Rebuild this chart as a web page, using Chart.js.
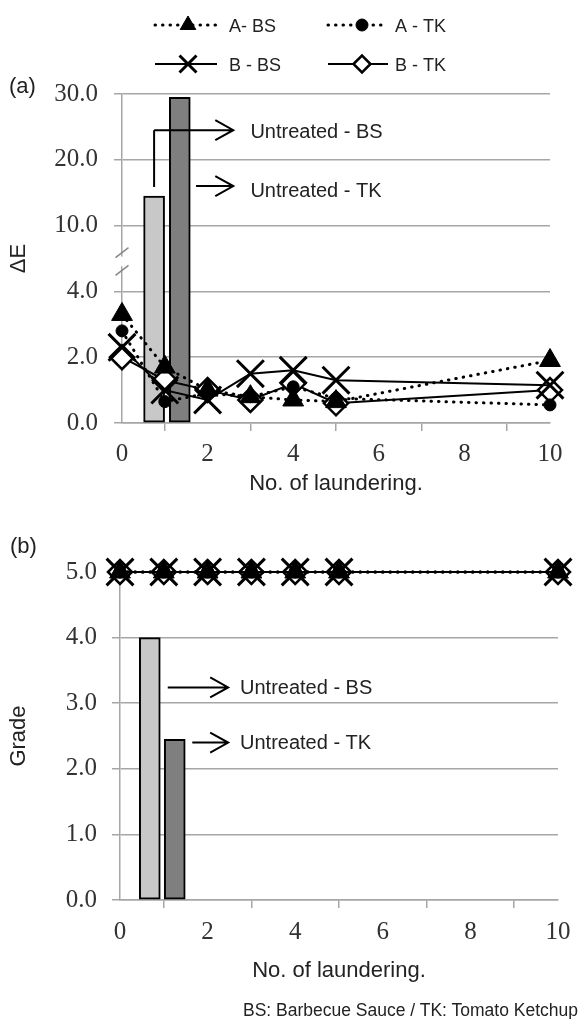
<!DOCTYPE html>
<html>
<head>
<meta charset="utf-8">
<script src="https://cdn.jsdelivr.net/npm/chart.js@4.4.1/dist/chart.umd.min.js"></script>
<style>
  body { margin: 0; background: #fff; width: 580px; height: 1019px; position: relative; overflow: hidden;
         font-family: 'Liberation Sans', Arial, sans-serif; color: #222; }
  .wrap { position: absolute; left: 0; width: 580px; }
  #wa { top: 0; height: 500px; }
  #wb { top: 500px; height: 519px; }
  .tag { position: absolute; font-size: 22px; line-height: 22px; }
  #note { position: absolute; right: 2px; top: 1000px; font-size: 17.5px; line-height: 20px; white-space: nowrap; }
</style>
</head>
<body>
<div class="wrap" id="wa"><canvas id="chartA"></canvas></div>
<div class="wrap" id="wb"><canvas id="chartB"></canvas></div>
<div class="tag" style="left:9px;top:75px">(a)</div>
<div class="tag" style="left:10px;top:535px">(b)</div>
<div id="note">BS: Barbecue Sauce / TK: Tomato Ketchup</div>

<script>
// ---- data ----
const washes = [0, 1, 2, 3, 4, 5, 10];
const seriesNames = ['A- BS', 'A - TK', 'B - BS', 'B - TK'];

// (a) colour difference
const dE_A_BS = [3.3, 1.7, 1.0, 0.8, 0.7, 0.65, 1.9];
const dE_A_TK = [2.8, 0.65, 0.9, 0.8, 1.1, 0.75, 0.55];
const dE_B_BS = [2.3, 1.0, 0.7, 1.5, 1.6, 1.3, 1.15];
const dE_B_TK = [2.0, 1.3, 1.0, 0.7, 1.2, 0.6, 1.0];
const dE_untreated = [14.5, 29.5];          // BS, TK
const dE_untreatedX = [0.75, 1.35];
const dETickLabels = ['0.0', '2.0', '4.0', '10.0', '20.0', '30.0'];

// (b) grade
const grade_A_BS = [5, 5, 5, 5, 5, 5, 5];
const grade_A_TK = [5, 5, 5, 5, 5, 5, 5];
const grade_B_BS = [5, 5, 5, 5, 5, 5, 5];
const grade_B_TK = [5, 5, 5, 5, 5, 5, 5];
const grade_untreated = [4.0, 2.45];
const grade_untreatedX = [0.68, 1.25];

const untreatedNames = ['Untreated - BS', 'Untreated - TK'];

// broken y axis in (a): 0-4 in the lower part, 10-30 above the break
function brokenY(v) { return v <= 4 ? v / 2 : 3 + (v - 10) / 10; }

const GRID = '#a6a6a6';
const SERIF = "'Liberation Serif', 'Times New Roman', serif";
const SANS = "'Liberation Sans', Arial, sans-serif";

const styles = [
  { pointStyle: 'triangle', radius: 12, legendR: 9,   fill: '#000', bw: 1, dash: [0.5, 7], lw: 3, cap: 'round', order: 1 },
  { pointStyle: 'circle',   radius: 6,  legendR: 6,   fill: '#000', bw: 1, dash: [0.5, 7], lw: 3, cap: 'round', order: 2 },
  { pointStyle: 'crossRot', radius: 19, legendR: 12,  fill: '#000', bw: 3, dash: [], lw: 2, cap: 'butt', order: 3 },
  { pointStyle: 'rectRot',  radius: 12, legendR: 8.5, fill: '#fff', bw: 2.5, dash: [], lw: 2, cap: 'butt', order: 4 }
];

function lineSet(i, ys, mapY) {
  const st = styles[i];
  return {
    type: 'line', label: seriesNames[i],
    data: washes.map((x, k) => ({ x, y: mapY(ys[k]) })),
    borderColor: '#000', borderWidth: st.lw, borderDash: st.dash, borderCapStyle: st.cap,
    pointStyle: st.pointStyle, pointRadius: st.radius, pointHoverRadius: st.radius,
    pointBackgroundColor: st.fill, pointBorderColor: '#000', pointBorderWidth: st.bw,
    tension: 0, fill: false, clip: false, order: st.order
  };
}

function barSet(x, y, color) {
  return {
    type: 'bar', data: [{ x, y }], backgroundColor: color, borderColor: '#000', borderWidth: 2,
    borderSkipped: false, barThickness: 21, grouped: false, order: 10
  };
}

function marker(ctx, style, r, x, y, fill, bw) {
  ctx.save();
  ctx.fillStyle = fill; ctx.strokeStyle = '#000'; ctx.lineWidth = bw; ctx.setLineDash([]);
  ctx.beginPath();
  if (style === 'triangle') {
    for (let k = 0; k < 3; k++) {
      const a = k * 2 * Math.PI / 3;
      ctx[k ? 'lineTo' : 'moveTo'](x + Math.sin(a) * r, y - Math.cos(a) * r);
    }
    ctx.closePath(); ctx.fill(); ctx.stroke();
  } else if (style === 'circle') {
    ctx.arc(x, y, r, 0, 2 * Math.PI); ctx.fill(); ctx.stroke();
  } else if (style === 'crossRot') {
    const d = r * Math.SQRT1_2;
    ctx.moveTo(x - d, y - d); ctx.lineTo(x + d, y + d);
    ctx.moveTo(x - d, y + d); ctx.lineTo(x + d, y - d); ctx.stroke();
  } else {
    ctx.moveTo(x - r, y); ctx.lineTo(x, y - r); ctx.lineTo(x + r, y); ctx.lineTo(x, y + r);
    ctx.closePath(); ctx.fill(); ctx.stroke();
  }
  ctx.restore();
}

function arrow(ctx, x1, y, x2) {
  ctx.beginPath(); ctx.moveTo(x1, y); ctx.lineTo(x2, y);
  ctx.moveTo(x2 - 18, y - 10); ctx.lineTo(x2, y); ctx.lineTo(x2 - 18, y + 10);
  ctx.stroke();
}

function label(ctx, text, x, y, size) {
  ctx.fillStyle = '#222'; ctx.font = (size || 20) + 'px ' + SANS;
  ctx.textAlign = 'left'; ctx.textBaseline = 'middle';
  ctx.fillText(text, x, y);
}

// legend drawn at the top of panel (a)
const legendPlugin = {
  id: 'legendTop',
  afterDraw(chart) {
    const ctx = chart.ctx;
    const cols = [[155, 217, 188, 229], [328, 388, 362, 395]];
    const rows = [25, 64];
    styles.forEach((st, i) => {
      const [x1, x2, xm, xt] = cols[i % 2];
      const y = rows[Math.floor(i / 2)];
      ctx.save();
      ctx.strokeStyle = '#000'; ctx.lineWidth = st.lw; ctx.setLineDash(st.dash); ctx.lineCap = st.cap;
      ctx.beginPath(); ctx.moveTo(x1, y); ctx.lineTo(x2, y); ctx.stroke();
      ctx.restore();
      marker(ctx, st.pointStyle, st.legendR, xm, y, st.fill, st.bw);
      label(ctx, seriesNames[i], xt, y + 2, 18);
    });
  }
};

const breakPlugin = {
  id: 'axisBreak',
  beforeDatasetsDraw(chart) {
    const { ctx, scales: { x, y } } = chart;
    const xa = x.left;
    const yLo = y.getPixelForValue(2.32), yHi = y.getPixelForValue(2.59);
    ctx.save();
    ctx.fillStyle = '#fff';
    ctx.fillRect(xa - 3, yHi + 4, 6, yLo - yHi - 8);
    ctx.strokeStyle = '#888'; ctx.lineWidth = 1.5;
    [yHi, yLo].forEach(yy => {
      ctx.beginPath(); ctx.moveTo(xa - 6.5, yy + 5); ctx.lineTo(xa + 6.5, yy - 5); ctx.stroke();
    });
    ctx.restore();
  }
};

const annotA = {
  id: 'annotA',
  afterDatasetsDraw(chart) {
    const { ctx, scales: { x, y } } = chart;
    ctx.save();
    ctx.strokeStyle = '#000'; ctx.lineWidth = 2;
    const bx = x.getPixelForValue(dE_untreatedX[0]);
    const yTop = y.getPixelForValue(brokenY(dE_untreated[0])) - 9;
    const yBr = y.getPixelForValue(brokenY(24.5));
    const xTip = x.getPixelForValue(2.6);
    ctx.beginPath(); ctx.moveTo(bx, yTop); ctx.lineTo(bx, yBr); ctx.stroke();
    arrow(ctx, bx, yBr, xTip);
    const yTk = y.getPixelForValue(brokenY(16));
    arrow(ctx, x.getPixelForValue(1.73), yTk, xTip);
    label(ctx, untreatedNames[0], x.getPixelForValue(3.0), yBr + 2);
    label(ctx, untreatedNames[1], x.getPixelForValue(3.0), yTk + 5);
    ctx.restore();
  }
};

const annotB = {
  id: 'annotB',
  afterDatasetsDraw(chart) {
    const { ctx, scales: { x, y } } = chart;
    ctx.save();
    ctx.strokeStyle = '#000'; ctx.lineWidth = 2;
    const xTip = x.getPixelForValue(2.47);
    const y1 = y.getPixelForValue(3.24), y2 = y.getPixelForValue(2.4);
    arrow(ctx, x.getPixelForValue(1.09), y1, xTip);
    arrow(ctx, x.getPixelForValue(1.65), y2, xTip);
    label(ctx, untreatedNames[0], x.getPixelForValue(2.74), y1 + 1);
    label(ctx, untreatedNames[1], x.getPixelForValue(2.74), y2 + 1);
    ctx.restore();
  }
};

function xScale(height, pad, padB) {
  return {
    type: 'linear', min: 0, max: 10, offset: false,
    afterFit: s => { s.height = height; },
    ticks: { stepSize: 2, font: { family: SERIF, size: 25 }, color: '#333', padding: pad, maxRotation: 0 },
    grid: { drawOnChartArea: false, drawTicks: true, tickLength: 8, color: GRID, lineWidth: 1.5 },
    border: { color: GRID, width: 1.5 },
    title: { display: true, text: 'No. of laundering.', font: { family: SANS, size: 22 }, color: '#222',
             padding: { top: 0, bottom: padB } }
  };
}

function yScale(width, title, cb, pad) {
  return {
    type: 'linear', min: 0, max: 5,
    afterFit: s => { s.width = width; },
    ticks: { stepSize: 1, callback: cb, font: { family: SERIF, size: 25 }, color: '#333', padding: pad },
    grid: { color: GRID, lineWidth: 1.5, tickLength: 8, drawTicks: true },
    border: { color: GRID, width: 1.5 },
    title: { display: true, text: title, font: { family: SANS, size: 22 }, color: '#222', padding: { top: 6 } }
  };
}

const common = {
  responsive: true, maintainAspectRatio: false, animation: false,
  plugins: { legend: { display: false }, tooltip: { enabled: false } }
};

new Chart(document.getElementById('chartA'), {
  type: 'line',
  data: {
    datasets: [
      barSet(dE_untreatedX[0], brokenY(dE_untreated[0]), '#c8c8c8'),
      barSet(dE_untreatedX[1], brokenY(dE_untreated[1]), '#7f7f7f'),
      lineSet(0, dE_A_BS, brokenY),
      lineSet(1, dE_A_TK, brokenY),
      lineSet(2, dE_B_BS, brokenY),
      lineSet(3, dE_B_TK, brokenY)
    ]
  },
  options: {
    ...common,
    layout: { padding: { top: 94, right: 30, left: 0, bottom: 0 } },
    scales: {
      x: xScale(77, 8, 3),
      y: yScale(122, 'ΔE', v => dETickLabels[v], 16)
    }
  },
  plugins: [legendPlugin, breakPlugin, annotA]
});

const same = v => v;
new Chart(document.getElementById('chartB'), {
  type: 'line',
  data: {
    datasets: [
      barSet(grade_untreatedX[0], grade_untreated[0], '#c8c8c8'),
      barSet(grade_untreatedX[1], grade_untreated[1], '#7f7f7f'),
      lineSet(0, grade_A_BS, same),
      lineSet(1, grade_A_TK, same),
      lineSet(2, grade_B_BS, same),
      lineSet(3, grade_B_TK, same)
    ]
  },
  options: {
    ...common,
    layout: { padding: { top: 72, right: 18, left: 0, bottom: 29 } },
    scales: {
      x: xScale(90, 9, 6),
      y: yScale(120, 'Grade', v => v.toFixed(1), 15)
    }
  },
  plugins: [annotB]
});
</script>
</body>
</html>
